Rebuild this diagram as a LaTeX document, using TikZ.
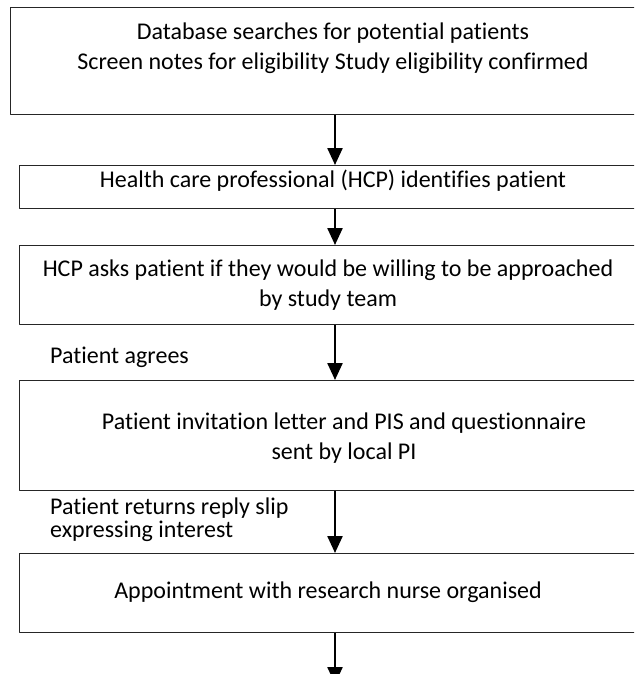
\documentclass[tikz,border=0pt]{standalone}
\usepackage{fontspec}
\setmainfont{Carlito}[Ligatures=CommonOff]
\usepackage{tikz}
\usetikzlibrary{arrows,arrows.meta}
\usetikzlibrary{positioning}

\begin{document}
\begin{tikzpicture}[line cap=round,line join=round,>={Triangle[width=15pt,length=17pt]},x=1pt,y=-1pt]
\tikzset{flowbox/.style={draw=black!85,line width=1pt,anchor=north west,inner sep=0pt,minimum width=650pt},
  flowtext/.style={font=\fontsize{24}{30}\selectfont,align=center,inner sep=0pt},
  sidetext/.style={font=\fontsize{24}{23}\selectfont,align=left,anchor=west,inner sep=0pt},
  flowarrow/.style={->,line width=2.4pt,line cap=butt}}
\useasboundingbox (0,0) rectangle (634,674);
\clip (0,0) rectangle (634,674);
% boxes
\node[flowbox,minimum height=107pt] (search) at (10,7) {};
\node[flowbox,minimum height=43pt] (hcp) at (19,165) {};
\node[flowbox,minimum height=79pt] (asks) at (19,245) {};
\node[flowbox,minimum height=110pt] (invite) at (19,380) {};
\node[flowbox,minimum height=79pt] (appoint) at (19,553) {};
% texts in boxes
\node[flowtext] (searchtxt) at (333,48) {Database searches for potential patients\\Screen notes for eligibility Study eligibility confirmed};
\node[flowtext] (hcptxt) at (333,181) {Health care professional (HCP) identifies patient};
\node[flowtext] (askstxt) at (328,285) {HCP asks patient if they would be willing to be approached\\by study team};
\node[flowtext] (invitetxt) at (344,438) {Patient invitation letter and PIS and questionnaire\\sent by local PI};
\node[flowtext] (appointtxt) at (328,592) {Appointment with research nurse organised};
% side labels
\node[sidetext] (agrees) at (50,357) {Patient agrees};
\node[sidetext] (replies) at (50,520) {Patient returns reply slip\\expressing interest};
% arrows
\coordinate (axis) at (335,0);
\coordinate (bottom) at (335,684);
\draw[flowarrow] (axis |- search.south) -- (axis |- hcp.north);
\draw[flowarrow] (axis |- hcp.south) -- (axis |- asks.north);
\draw[flowarrow] (axis |- asks.south) -- (axis |- invite.north);
\draw[flowarrow] (axis |- invite.south) -- (axis |- appoint.north);
\draw[flowarrow] (axis |- appoint.south) -- (bottom);
\end{tikzpicture}
\end{document}
